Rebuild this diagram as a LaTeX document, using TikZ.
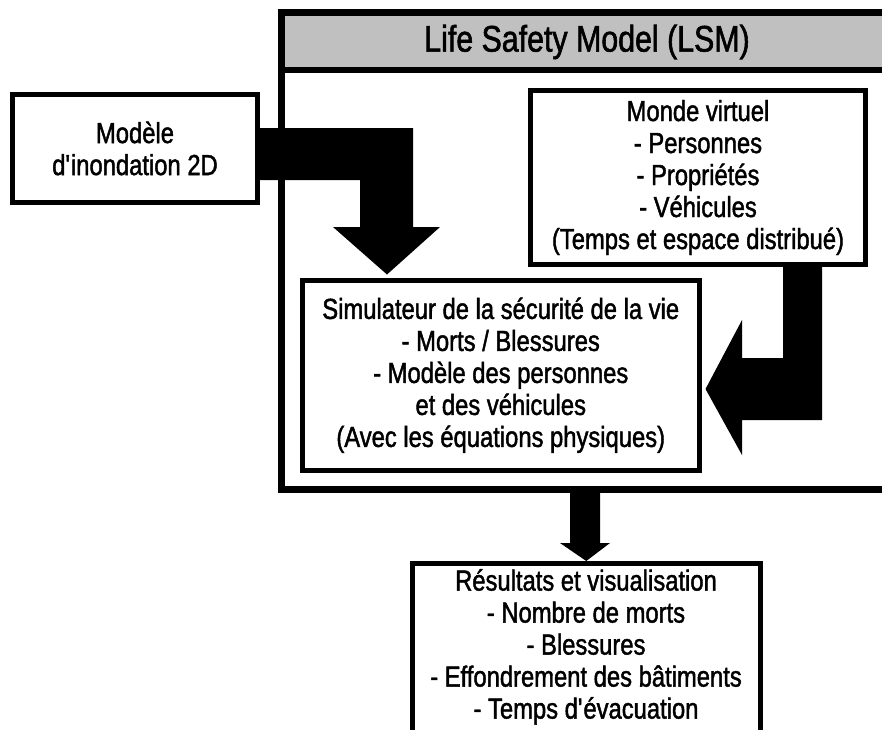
\documentclass[tikz,border=0pt]{standalone}
\usepackage{fontspec}
\setmainfont{Liberation Sans}[FakeStretch=0.82,FakeBold=1.5]
\usetikzlibrary{calc}
\definecolor{bandgray}{HTML}{C0C0C0}
\newcommand{\bodysize}{\fontsize{29}{32}\selectfont}
\newcommand{\titlesize}{\fontsize{37}{40}\selectfont}
\begin{document}
\begin{tikzpicture}[x=1pt,y=-1pt,
  box/.style={draw, line width=5pt, inner sep=0pt, align=center, font=\bodysize, fill=white},
  blockarrow/.style={fill=black, draw=none}]
\useasboundingbox (0,0) rectangle (882,729);

% outer LSM frame
\node[draw=none, fill=white, minimum width=612, minimum height=476.5, inner sep=0pt] (lsm) at (587,250.75) {};
\fill[bandgray] (lsm.north west) rectangle ($(lsm.north east)+(0,57.5)$);
\node[draw, line width=7pt, minimum width=612, minimum height=476.5, inner sep=0pt] (lsmframe) at (lsm.center) {};
\draw[line width=6pt] ($(lsm.north west)+(0,57.5)$) -- ($(lsm.north east)+(0,57.5)$);
\node[font=\titlesize, inner sep=0pt] (title) at (587,42) {Life Safety Model (LSM)};

% boxes
\node[box, minimum width=245, minimum height=108] (modele) at (135,148.5) {Modèle\\d\textquotesingle inondation 2D};
\node[box, minimum width=335.5, minimum height=174] (monde) at (698,177.5)
  {Monde virtuel\\- Personnes\\- Propriétés\\- Véhicules\\(Temps et espace distribué)};
\node[box, minimum width=396.5, minimum height=189.5] (sim) at (500.75,375.25)
  {Simulateur de la sécurité de la vie\\- Morts / Blessures\\- Modèle des personnes\\et des véhicules\\(Avec les équations physiques)};
\node[box, minimum width=347.5, minimum height=200, anchor=north] (res) at (586.25,561) {};
\node[font=\bodysize, align=center, inner sep=0pt, anchor=north] (restext) at (586,569)
  {Résultats et visualisation\\- Nombre de morts\\- Blessures\\- Effondrement des bâtiments\\- Temps d\textquotesingle évacuation};

% block arrows
\fill[blockarrow] ($(modele.east)+(0,-20.5)$) -- (413,128) -- (413,227) -- (440,227)
  -- ($(sim.north)+(-113.75,-3.5)$) -- (333,227) -- (360,227) -- (360,180)
  -- ($(modele.east)+(0,31.5)$) -- cycle;
\fill[blockarrow] ($(monde.south)+(85,0)$) -- (822,264.5) -- (822,420) -- (742,420) -- (742,455)
  -- ($(sim.east)+(4,13.75)$) -- (742,320) -- (742,358) -- (783,358) -- cycle;
\fill[blockarrow] (570,489) -- (600,489) -- (600,543) -- (610,543) -- (res.north)
  -- (560,543) -- (570,543) -- cycle;
\end{tikzpicture}
\end{document}
